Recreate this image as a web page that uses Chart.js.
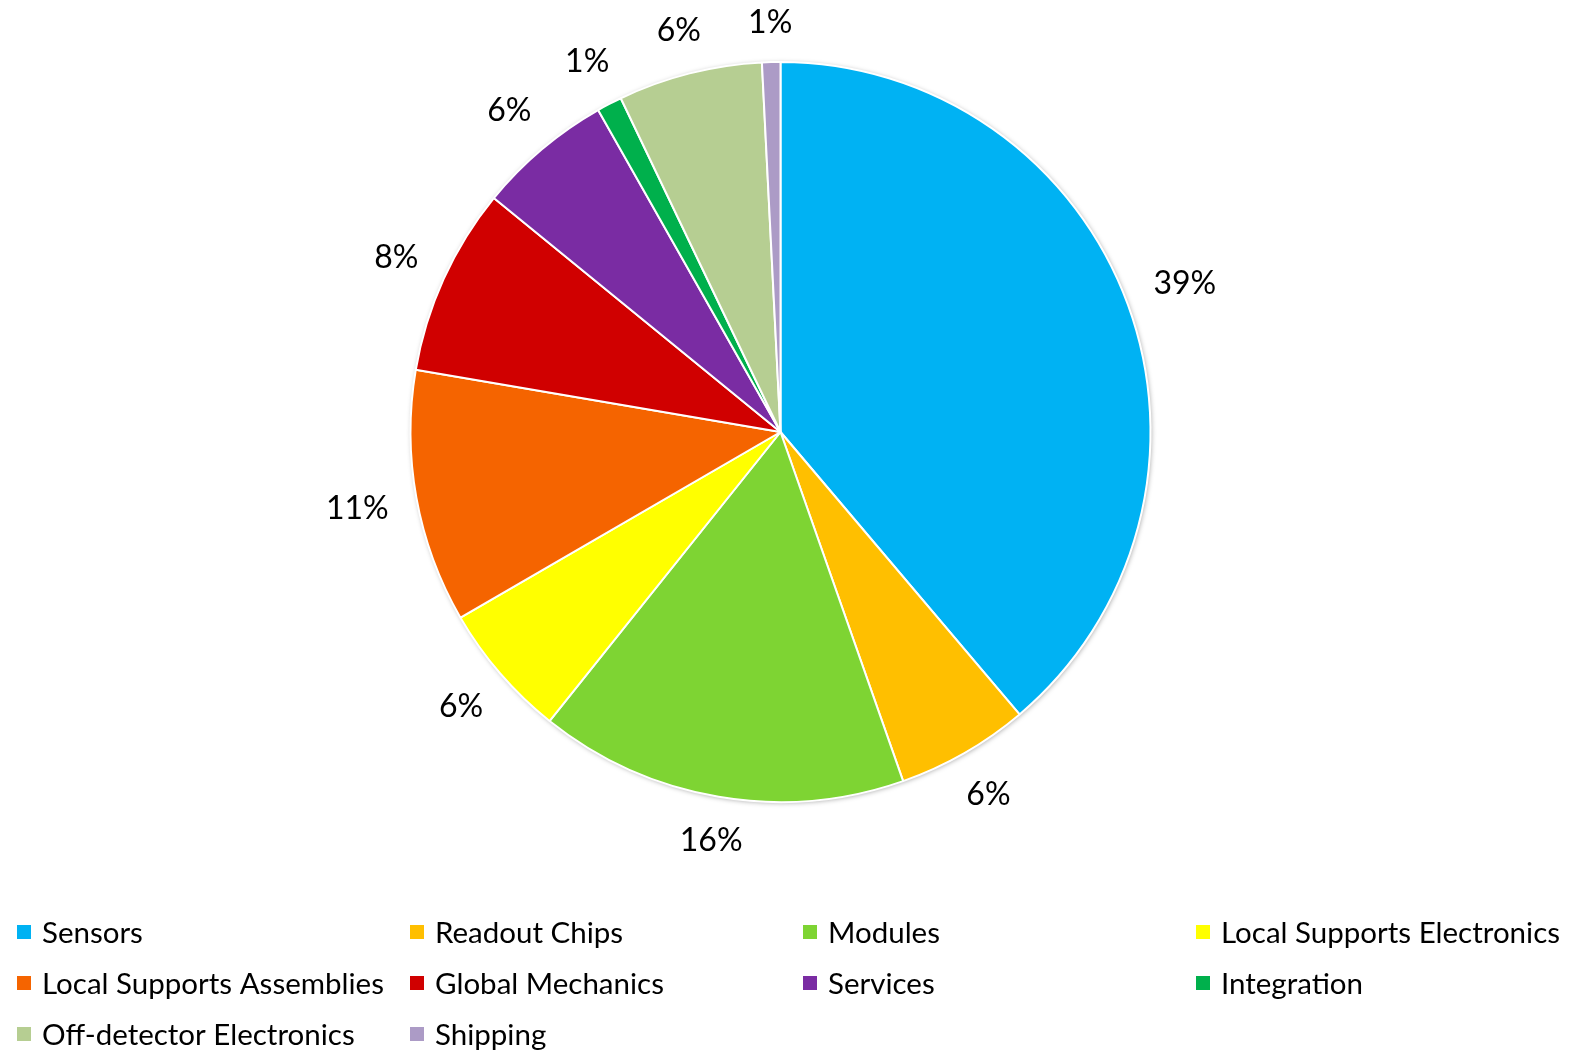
<!DOCTYPE html>
<html>
<head>
<meta charset="utf-8">
<title>Cost breakdown</title>
<script src="https://cdn.jsdelivr.net/npm/chart.js@4/dist/chart.umd.min.js"></script>
<style>
  html, body { margin: 0; padding: 0; background: #ffffff; }
  #wrap { position: relative; width: 1570px; height: 1051px; }
</style>
</head>
<body>
<div id="wrap"><canvas id="c" width="1570" height="1051"></canvas></div>
<script>
// Share of total cost per work area, in percent
const categories = [
  'Sensors', 'Readout Chips', 'Modules', 'Local Supports Electronics',
  'Local Supports Assemblies', 'Global Mechanics', 'Services', 'Integration',
  'Off-detector Electronics', 'Shipping'
];
const shares = [38.8, 5.8, 16.1, 5.9, 11.05, 8.2, 5.9, 1.1, 6.3, 0.8];
const sliceColors = [
  '#00B2F3', '#FFBF00', '#7ED433', '#FFFF00',
  '#F56400', '#D00000', '#7A2CA3', '#00B04C',
  '#B6CE92', '#AC9BC6'
];

const FONT = 'Lato, "Open Sans", sans-serif';

// Soft outer shadow under the pie
const pieShadow = {
  id: 'pieShadow',
  beforeDatasetsDraw(chart) {
    const arc = chart.getDatasetMeta(0).data[0];
    if (!arc) return;
    const ctx = chart.ctx;
    ctx.save();
    ctx.beginPath();
    ctx.arc(arc.x, arc.y, arc.outerRadius, 0, Math.PI * 2);
    ctx.fillStyle = '#ffffff';
    ctx.shadowColor = 'rgba(0,0,0,0.35)';
    ctx.shadowBlur = 5;
    ctx.shadowOffsetX = 1;
    ctx.shadowOffsetY = 1;
    ctx.fill();
    ctx.restore();
  }
};

// Percentage labels outside each slice; the text box keeps a fixed gap from the rim
const outsideLabels = {
  id: 'outsideLabels',
  afterDatasetsDraw(chart) {
    const ds = chart.data.datasets[0];
    const total = ds.data.reduce((a, b) => a + b, 0);
    const ctx = chart.ctx;
    const gap = 27;
    const boxH = 24;
    ctx.save();
    ctx.font = '32px ' + FONT;
    ctx.fillStyle = '#000000';
    ctx.textAlign = 'center';
    ctx.textBaseline = 'middle';
    chart.getDatasetMeta(0).data.forEach((arc, i) => {
      const text = Math.round(ds.data[i] / total * 100) + '%';
      const w = ctx.measureText(text).width;
      const mid = (arc.startAngle + arc.endAngle) / 2;
      const c = Math.cos(mid), s = Math.sin(mid);
      const r = arc.outerRadius + gap + Math.abs(c) * w / 2 + Math.abs(s) * boxH / 2;
      ctx.fillText(text, arc.x + c * r, arc.y + s * r);
    });
    ctx.restore();
  }
};

// Four-column legend below the pie
const gridLegend = {
  id: 'gridLegend',
  afterDraw(chart) {
    const ctx = chart.ctx;
    const colX = [17, 410, 803, 1196];
    const rowY = [932, 983, 1034];
    ctx.save();
    ctx.font = '29.5px ' + FONT;
    ctx.textBaseline = 'middle';
    ctx.textAlign = 'left';
    chart.data.labels.forEach((label, i) => {
      const x = colX[i % 4];
      const y = rowY[Math.floor(i / 4)];
      ctx.fillStyle = chart.data.datasets[0].backgroundColor[i];
      ctx.fillRect(x, y - 7, 14, 14);
      ctx.fillStyle = '#000000';
      ctx.fillText(label, x + 25, y + 1);
    });
    ctx.restore();
  }
};

new Chart(document.getElementById('c'), {
  type: 'pie',
  data: {
    labels: categories,
    datasets: [{
      data: shares,
      backgroundColor: sliceColors,
      borderColor: '#ffffff',
      borderWidth: 2
    }]
  },
  options: {
    responsive: false,
    animation: false,
    layout: { padding: { top: 61, bottom: 248, left: 0, right: 9 } },
    plugins: {
      legend: { display: false },
      tooltip: { enabled: false },
      title: { display: false }
    }
  },
  plugins: [pieShadow, outsideLabels, gridLegend]
});
</script>
</body>
</html>
